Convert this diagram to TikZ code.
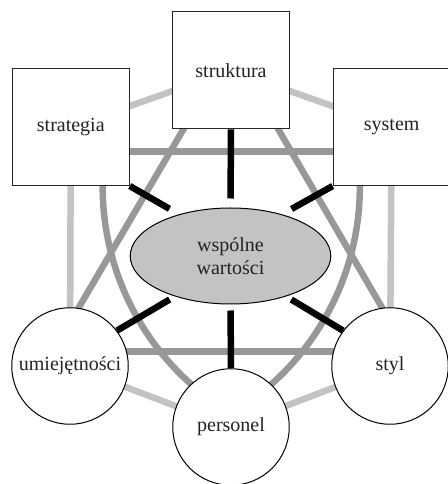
\documentclass[tikz,border=0pt]{standalone}
\usepackage{fontspec}
\setmainfont{Liberation Serif}
\usetikzlibrary{shapes.geometric}
\pgfdeclarelayer{background}
\pgfsetlayers{background,main}
\definecolor{lgray}{RGB}{195,195,195}
\definecolor{mgray}{RGB}{152,152,152}
\definecolor{txt}{RGB}{35,35,35}
\begin{document}
\begin{tikzpicture}[x=1pt,y=1pt,
  every node/.style={font=\fontsize{20}{23}\selectfont, text=txt, inner sep=0pt},
  boxnode/.style={draw=black!85, line width=1.1pt, fill=white, minimum width=117pt, minimum height=117pt},
  circnode/.style={circle, draw=black, line width=1pt, fill=white, minimum size=116.5pt},
  ellnode/.style={ellipse, draw=black, line width=1pt, fill=lgray, minimum width=200.6pt, minimum height=96pt, align=center},
  outerline/.style={lgray, line width=6.5pt},
  starline/.style={mgray, line width=6.5pt},
  spoke/.style={black, line width=6.5pt}]
\useasboundingbox (0,0) rectangle (447,484);
\node[boxnode] (struktura) at (231,413.7) {struktura};
\node[boxnode] (strategia) at (70.8,357) {strategia};
\node[boxnode] (system) at (391.7,357) {system};
\node[ellnode] (ell) at (230.5,228) {wspólne\\wartości};
\node[circnode] (umiej) at (70,118) {umiejętności};
\node[circnode] (styl) at (390,118) {styl};
\node[circnode] (personel) at (231,57) {personel};
\begin{pgfonlayer}{background}
\draw[outerline] (strategia.center) -- (struktura.center);
\draw[outerline] (struktura.center) -- (system.center);
\draw[outerline] (system.center) -- (styl.center);
\draw[outerline] (styl.center) -- (personel.center);
\draw[outerline] (personel.center) -- (umiej.center);
\draw[outerline] (umiej.center) -- (strategia.center);
\draw[starline] ([yshift=-24.7]strategia.center) -- ([yshift=-24.7]system.center);
\draw[starline] ([yshift=14.3]umiej.center) -- ([yshift=14.3]styl.center);
\draw[starline] ([xshift=-13]struktura.center) -- ([xshift=-25.5]umiej.center);
\draw[starline] ([xshift=13]struktura.center) -- ([xshift=26]styl.center);
\draw[starline] ([shift={(35.9,-14.2)}]strategia.center) arc[start angle=170, end angle=235, radius=264];
\draw[starline] ([shift={(-35.9,-14.2)}]system.center) arc[start angle=10, end angle=-55, radius=264];
\draw[spoke, shorten >=9pt] (struktura.south) -- (ell.north);
\draw[spoke, shorten >=11pt] (strategia.south east) -- (ell.141);
\draw[spoke, shorten >=11pt] (system.south west) -- (ell.39);
\draw[spoke, shorten >=6pt] (umiej.37) -- (ell.216);
\draw[spoke, shorten >=6pt] (styl.143) -- (ell.324);
\draw[spoke, shorten >=6pt] (personel.north) -- (ell.south);
\end{pgfonlayer}
\end{tikzpicture}
\end{document}
